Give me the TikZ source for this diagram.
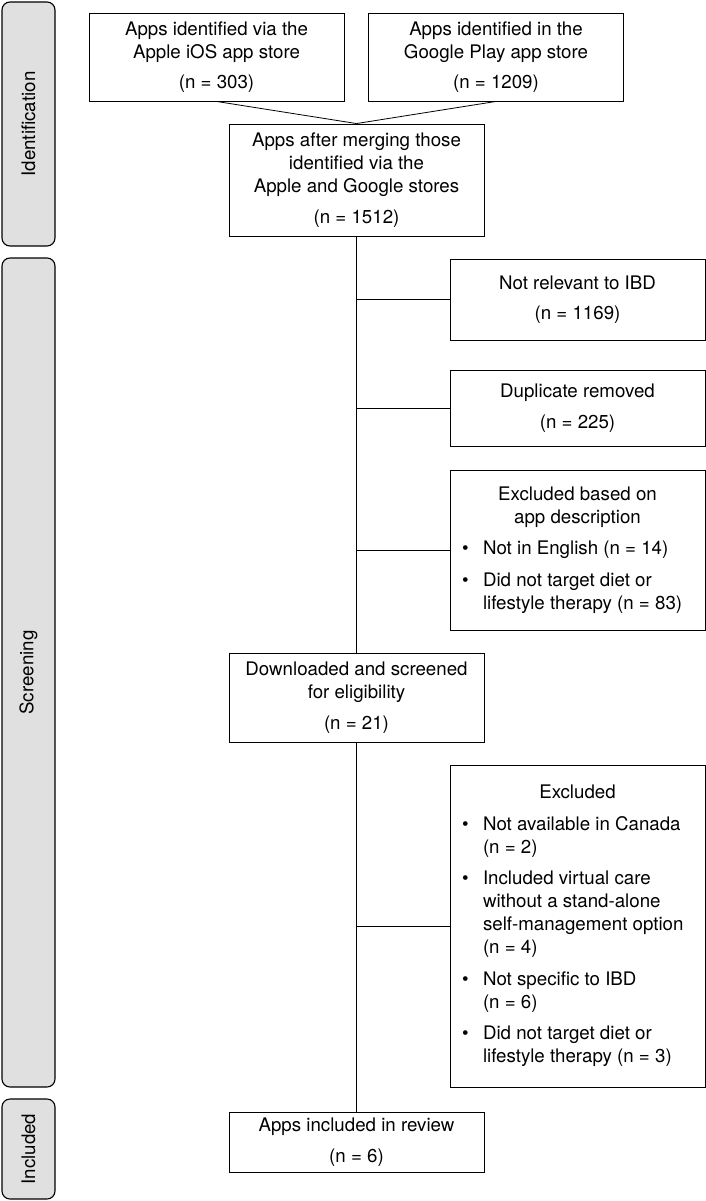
\documentclass[tikz,border=0pt]{standalone}
\usepackage{fontspec}
\setmainfont{TeX Gyre Heros}
\newcommand{\bitem}[1]{\par\vspace{8.5pt}\noindent\hangindent=33pt\hangafter=1\hbox to 33pt{\hskip 12pt\textbullet\hfil}{\let\\\newline #1}\par}
\newenvironment{listcontent}{\begin{minipage}{255pt}\raggedright\parindent=0pt\parskip=0pt}{\end{minipage}}
\tikzset{
  box/.style={draw=black, line width=0.9pt, fill=white, align=center, minimum width=255pt,
    font=\fontsize{18.7}{23}\selectfont, inner sep=3pt},
  listbox/.style={draw=black, line width=0.9pt, fill=white,
    inner xsep=0pt, font=\fontsize{18.7}{23}\selectfont},
  sidebox/.style={draw=black, line width=1.1pt, fill=black!12, rounded corners=8pt, rotate=90,
    minimum height=53pt, font=\fontsize{18.7}{23}\selectfont},
  conn/.style={draw=black, line width=0.8pt}
}
\begin{document}
\begin{tikzpicture}[x=1pt,y=-1pt]
\useasboundingbox (0,0) rectangle (706,1201);
% side labels
\node[sidebox, minimum width=244pt] (sid) at (28.5,124) {Identification};
\node[sidebox, minimum width=829pt] (sscr) at (28.5,672.5) {Screening};
\node[sidebox, minimum width=100pt] (sinc) at (28.5,1149) {Included};
% main boxes
\node[box, minimum height=88pt] (apple) at (216.5,57) {Apps identified via the\\Apple iOS app store\\[7.5pt](n = 303)};
\node[box, minimum height=88pt] (google) at (496,57) {Apps identified in the\\Google Play app store\\[7.5pt](n = 1209)};
\node[box, minimum height=112pt] (merge) at (356.5,180) {Apps after merging those\\identified via the\\Apple and Google stores\\[7.5pt](n = 1512)};
\node[box, minimum height=81pt] (notrel) at (577.5,299.5) {Not relevant to IBD\\[7.5pt](n = 1169)};
\node[box, minimum height=76pt] (dup) at (577.5,408) {Duplicate removed\\[7.5pt](n = 225)};
\node[listbox, minimum height=160pt] (desc) at (577.5,550) {\begin{listcontent}{\centering Excluded based on\\app description\par}\bitem{Not in English (n = 14)}\bitem{Did not target diet or\\lifestyle therapy (n = 83)}\end{listcontent}};
\node[box, minimum height=89pt] (down) at (356.5,697.5) {Downloaded and screened\\for eligibility\\[7.5pt](n = 21)};
\node[listbox, minimum height=322pt] (excl) at (577.5,926) {\begin{listcontent}{\centering Excluded\par}\bitem{Not available in Canada\\(n = 2)}\bitem{Included virtual care\\without a stand-alone\\self-management option\\(n = 4)}\bitem{Not specific to IBD\\(n = 6)}\bitem{Did not target diet or\\lifestyle therapy (n = 3)}\end{listcontent}};
\node[box, minimum height=60pt] (incl) at (356.5,1142) {Apps included in review\\[7.5pt](n = 6)};
% connectors
\draw[conn] (apple.south) -- (merge.north);
\draw[conn] (google.south) -- (merge.north);
\draw[conn] (merge.south) -- (down.north);
\draw[conn] (down.south) -- (incl.north);
\draw[conn] (merge.south |- notrel.west) -- (notrel.west);
\draw[conn] (merge.south |- dup.west) -- (dup.west);
\draw[conn] (merge.south |- desc.west) -- (desc.west);
\draw[conn] (down.south |- excl.west) -- (excl.west);
\end{tikzpicture}
\end{document}
